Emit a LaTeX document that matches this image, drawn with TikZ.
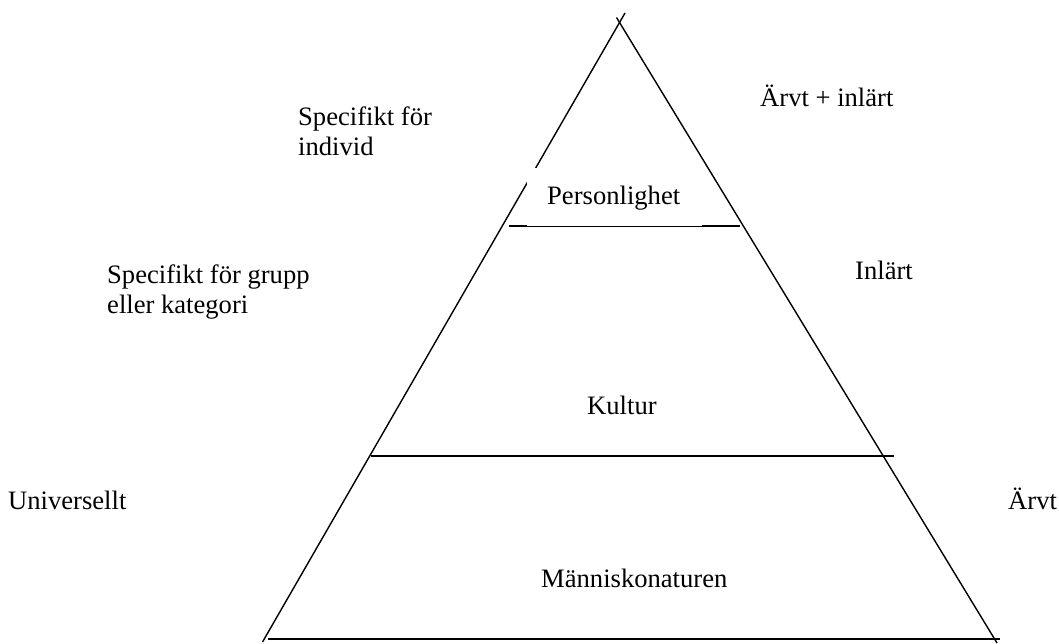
\documentclass[tikz,border=0pt]{standalone}
\usepackage{fontspec}
\setmainfont{Liberation Serif}
\begin{document}
\begin{tikzpicture}[x=1pt,y=-1pt,
  edge/.style={line width=1.4pt,black},
  level/.style={line width=1.5pt,black},
  lbl/.style={anchor=base west,inner sep=0pt,font=\fontsize{26.6}{30}\selectfont},
  lbl2/.style={anchor=north west,inner sep=0pt,align=left,font=\fontsize{26.6}{30}\selectfont},
  mask/.style={fill=white,inner sep=0pt,minimum width=175pt,minimum height=58pt}]
\useasboundingbox[fill=white] (0,0) rectangle (1059,643);
% triangle edges
\coordinate (apexL) at (625,13);
\coordinate (botL) at (262.5,642);
\coordinate (apexR) at (616.5,17.5);
\coordinate (botR) at (997,643);
\draw[edge] (apexL) -- (botL);
\draw[edge] (apexR) -- (botR);
% level lines
\coordinate (p1) at (509,226);
\coordinate (p2) at (740,226);
\coordinate (k1) at (371,456);
\coordinate (k2) at (894,456);
\coordinate (b1) at (268,639);
\coordinate (b2) at (1000,639);
\draw[line width=1.8pt] (p1) -- (p2);
\draw[level] (k1) -- (k2);
\draw[line width=2pt] (b1) -- (b2);
% text box of Personlighet
\node[mask] (persbox) at (614.5,197.2) {};
\draw[line width=0.6pt] (persbox.south west) -- (persbox.south east);
% labels
\node[lbl] (pers) at (547,204) {Personlighet};
\node[lbl] (kult) at (587,414) {Kultur};
\node[lbl] (mann) at (541,587) {Människonaturen};
\node[lbl2] (indiv) at (298,107) {Specifikt för\\individ};
\node[lbl2] (grupp) at (107,265) {Specifikt för grupp\\eller kategori};
\node[lbl] (univ) at (8,509) {Universellt};
\node[lbl] (arvin) at (760,106) {Ärvt + inlärt};
\node[lbl] (inl) at (855,279) {Inlärt};
\node[lbl] (arvt) at (1008,509) {Ärvt};
\end{tikzpicture}
\end{document}
